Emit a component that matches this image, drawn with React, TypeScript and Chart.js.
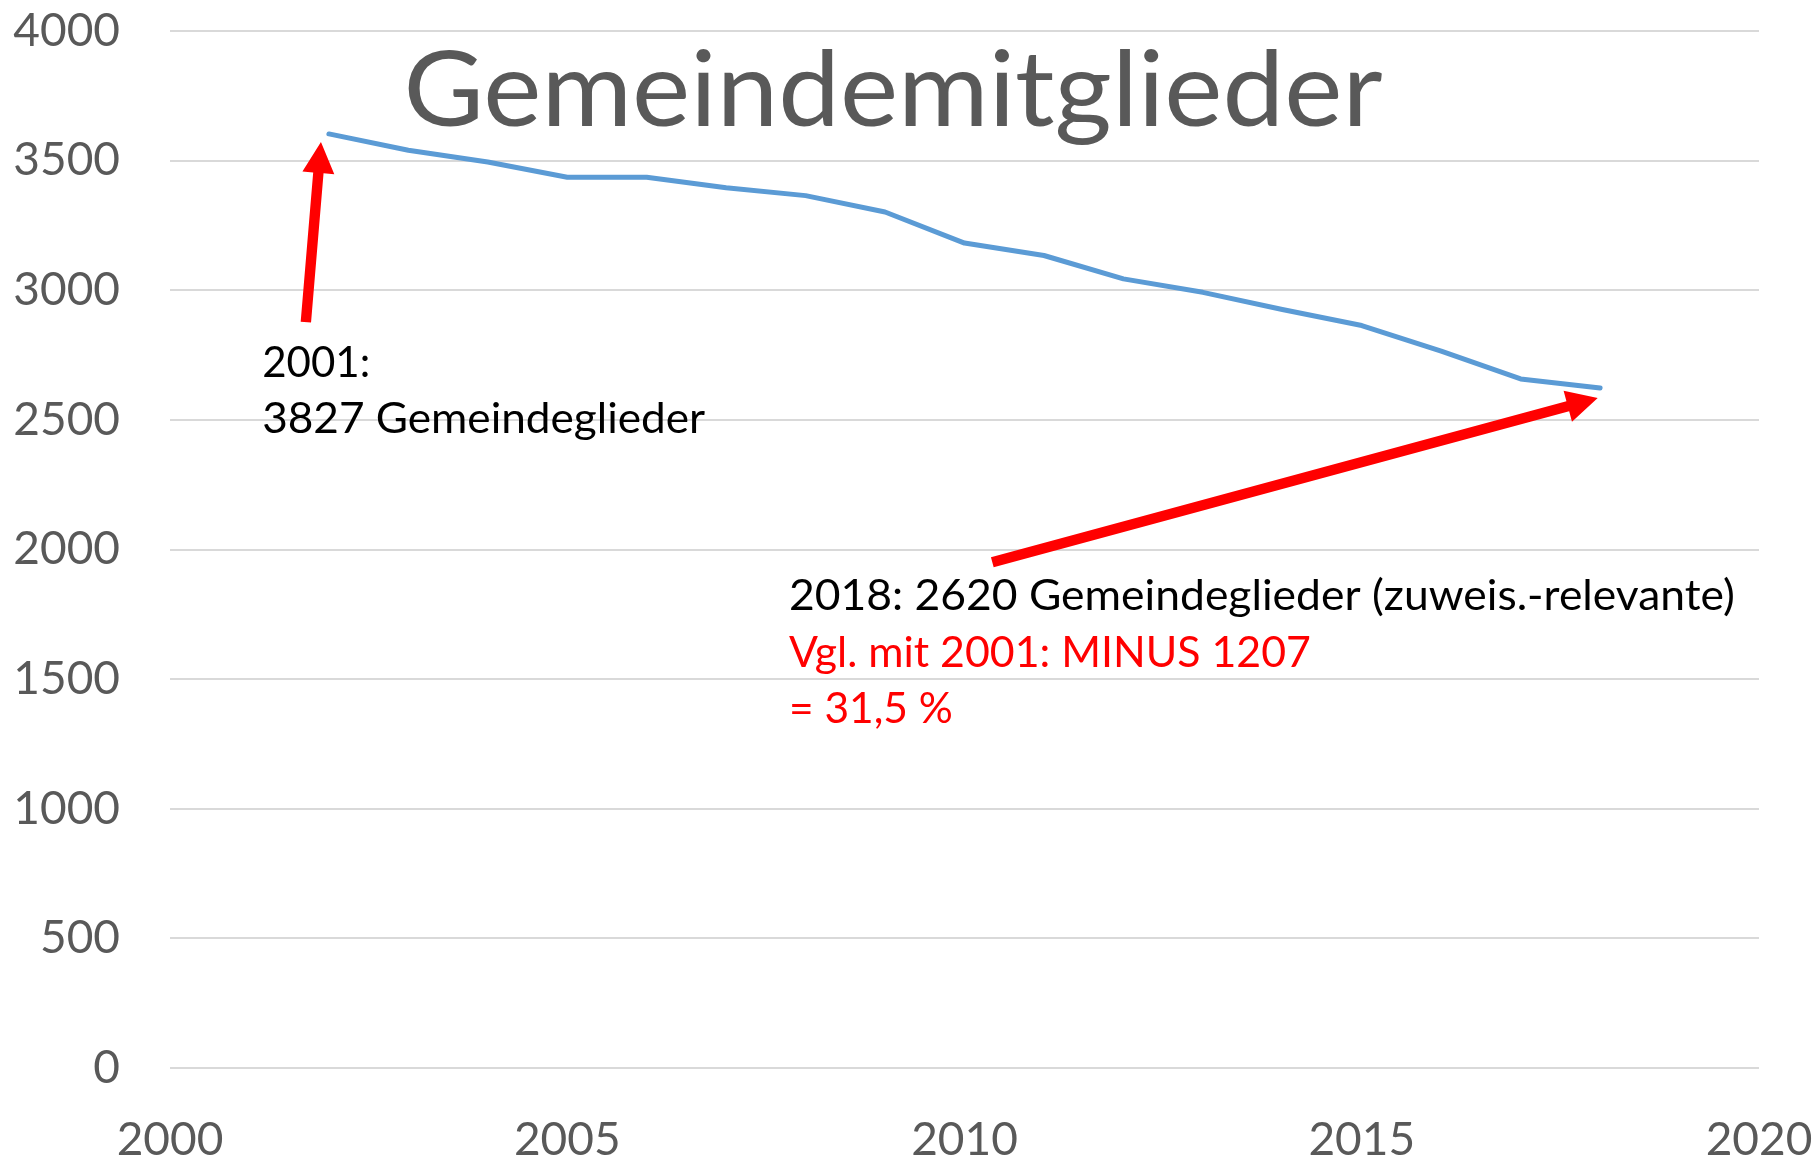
import React, { useEffect, useRef } from 'react';
import { Chart, registerables } from 'chart.js';

Chart.register(...registerables);

// ---- data ----
const TITLE = 'Gemeindemitglieder';
const YEARS = [2002, 2003, 2004, 2005, 2006, 2007, 2008, 2009, 2010, 2011, 2012, 2013, 2014, 2015, 2016, 2017, 2018];
const MEMBERS = [3603, 3540, 3495, 3436, 3436, 3395, 3365, 3302, 3182, 3134, 3044, 2992, 2926, 2864, 2765, 2658, 2623];
const X_RANGE = [2000, 2020];
const X_STEP = 5;
const Y_RANGE = [0, 4000];
const Y_STEP = 500;

// annotation texts (anchored in data units: left edge / baseline)
const NOTE_TEXTS = [
  '2001:',
  '3827 Gemeindeglieder',
  '2018: 2620 Gemeindeglieder (zuweis.-relevante)',
  'Vgl. mit 2001: MINUS 1207',
  '= 31,5 %',
];
const NOTE_X = [2001.16, 2001.16, 2007.79, 2007.79, 2007.79];
const NOTE_Y = [2665, 2449, 1767, 1547, 1331];
const NOTE_COLORS = ['#000000', '#000000', '#000000', '#ff0000', '#ff0000'];
// rendered text widths in pixels (style)
const NOTE_WIDTHS = [108, 443, 946, 522, 164];

// arrows (tail -> tip) in data units
const ARROW_FROM_X = [2001.71, 2010.35];
const ARROW_FROM_Y = [2877, 1951];
const ARROW_TO_X = [2001.9, 2017.97];
const ARROW_TO_Y = [3572, 2584];

// title anchor (centre / baseline) in data units
const TITLE_X = 2009.1;
const TITLE_Y = 3634;

const FONT = 'Lato, "Open Sans", "Noto Sans", sans-serif';

function drawArrow(ctx: CanvasRenderingContext2D, x0: number, y0: number, x1: number, y1: number) {
  const dx = x1 - x0;
  const dy = y1 - y0;
  const len = Math.hypot(dx, dy);
  const ux = dx / len;
  const uy = dy / len;
  const px = -uy;
  const py = ux;
  const headLen = 31;
  const headHalf = 16;
  const shaftHalf = 5.2;
  const bx = x1 - ux * headLen;
  const by = y1 - uy * headLen;
  ctx.save();
  ctx.fillStyle = '#ff0000';
  ctx.beginPath();
  ctx.moveTo(x0 + px * shaftHalf, y0 + py * shaftHalf);
  ctx.lineTo(bx + px * shaftHalf, by + py * shaftHalf);
  ctx.lineTo(bx + px * headHalf, by + py * headHalf);
  ctx.lineTo(x1, y1);
  ctx.lineTo(bx - px * headHalf, by - py * headHalf);
  ctx.lineTo(bx - px * shaftHalf, by - py * shaftHalf);
  ctx.lineTo(x0 - px * shaftHalf, y0 - py * shaftHalf);
  ctx.closePath();
  ctx.fill();
  ctx.restore();
}

function drawFittedText(
  ctx: CanvasRenderingContext2D,
  text: string,
  x: number,
  y: number,
  font: string,
  color: string,
  width: number,
  align: CanvasTextAlign
) {
  ctx.save();
  ctx.font = font;
  const w = ctx.measureText(text).width;
  const sx = w > 0 ? width / w : 1;
  ctx.fillStyle = color;
  ctx.textAlign = align;
  ctx.textBaseline = 'alphabetic';
  ctx.translate(x, y);
  ctx.scale(sx, 1);
  ctx.fillText(text, 0, 0);
  ctx.restore();
}

const annotationsPlugin = {
  id: 'annotationsPlugin',
  afterDatasetsDraw(chart: any) {
    const { ctx, scales } = chart;
    const xs = scales.x;
    const ys = scales.y;

    // title
    drawFittedText(ctx, TITLE, xs.getPixelForValue(TITLE_X), ys.getPixelForValue(TITLE_Y), `400 105px ${FONT}`, '#595959', 979, 'center');

    // arrows
    for (let i = 0; i < ARROW_FROM_X.length; i++) {
      drawArrow(
        ctx,
        xs.getPixelForValue(ARROW_FROM_X[i]),
        ys.getPixelForValue(ARROW_FROM_Y[i]),
        xs.getPixelForValue(ARROW_TO_X[i]),
        ys.getPixelForValue(ARROW_TO_Y[i])
      );
    }

    // notes
    for (let i = 0; i < NOTE_TEXTS.length; i++) {
      drawFittedText(
        ctx,
        NOTE_TEXTS[i],
        xs.getPixelForValue(NOTE_X[i]),
        ys.getPixelForValue(NOTE_Y[i]),
        `400 42px ${FONT}`,
        NOTE_COLORS[i],
        NOTE_WIDTHS[i],
        'left'
      );
    }
  },
};

function zeroPadding(s: any) {
  s.paddingTop = 0;
  s.paddingBottom = 0;
  s.paddingLeft = 0;
  s.paddingRight = 0;
}

export default function App() {
  const canvasRef = useRef<HTMLCanvasElement | null>(null);

  useEffect(() => {
    const canvas = canvasRef.current;
    if (!canvas) return;
    const chart = new Chart(canvas, {
      type: 'line',
      data: {
        datasets: [
          {
            label: TITLE,
            data: YEARS.map((yr, i) => ({ x: yr, y: MEMBERS[i] })),
            borderColor: '#5b9bd5',
            backgroundColor: '#5b9bd5',
            borderWidth: 5,
            borderCapStyle: 'round',
            borderJoinStyle: 'round',
            pointRadius: 0,
            tension: 0,
            fill: false,
          },
        ],
      },
      options: {
        responsive: false,
        animation: false,
        layout: { padding: { left: 0, right: 59, top: 31, bottom: 0 } },
        plugins: {
          legend: { display: false },
          title: { display: false },
          tooltip: { enabled: false },
        },
        scales: {
          x: {
            type: 'linear',
            min: X_RANGE[0],
            max: X_RANGE[1],
            grid: { display: false, drawTicks: false },
            border: { display: false },
            ticks: {
              stepSize: X_STEP,
              padding: 45,
              color: '#595959',
              font: { family: FONT, size: 46 },
              maxRotation: 0,
              callback: (v: any) => String(v),
            },
            afterFit: (s: any) => {
              s.height = 91;
              zeroPadding(s);
            },
          },
          y: {
            min: Y_RANGE[0],
            max: Y_RANGE[1],
            grid: { color: '#d9d9d9', lineWidth: 2, drawTicks: false },
            border: { display: false },
            ticks: {
              stepSize: Y_STEP,
              padding: 50,
              color: '#595959',
              font: { family: FONT, size: 46 },
              callback: (v: any) => String(v),
            },
            afterFit: (s: any) => {
              s.width = 170;
              zeroPadding(s);
            },
          },
        },
      },
      plugins: [annotationsPlugin],
    });
    return () => chart.destroy();
  }, []);

  return (
    <div style={{ position: 'fixed', left: 0, top: 0, width: 1818, height: 1159, background: '#ffffff' }}>
      <canvas ref={canvasRef} width={1818} height={1159} style={{ display: 'block' }} />
    </div>
  );
}
